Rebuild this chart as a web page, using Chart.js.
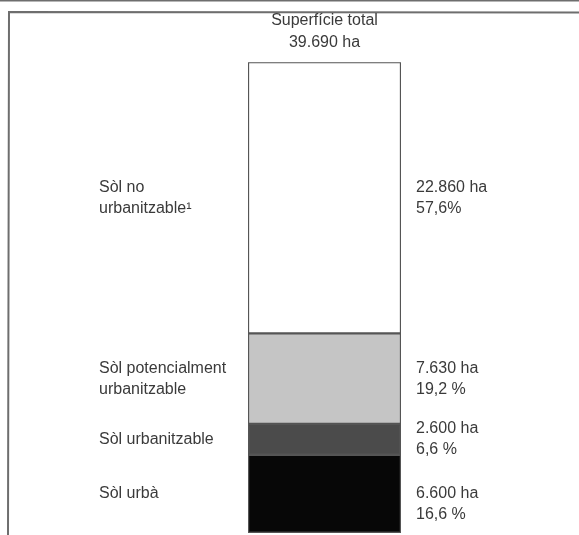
<!DOCTYPE html>
<html>
<head>
<meta charset="utf-8">
<script src="https://cdn.jsdelivr.net/npm/chart.js@4/dist/chart.umd.min.js"></script>
<style>
  html, body { margin: 0; padding: 0; background: #ffffff; }
  #wrap { width: 579px; height: 535px; }
</style>
</head>
<body>
<div id="wrap"><canvas id="c" width="579" height="535"></canvas></div>
<script>
// Land classes, from the bottom of the column to the top
const categories = ['Sòl urbà', 'Sòl urbanitzable', 'Sòl potencialment urbanitzable', 'Sòl no urbanitzable'];
const classLabelLines = [
  ['Sòl urbà'],
  ['Sòl urbanitzable'],
  ['Sòl potencialment', 'urbanitzable'],
  ['Sòl no', 'urbanitzable\u00B9']
];
const hectares = [6600, 2600, 7630, 22860];
const hectareLabels = ['6.600 ha', '2.600 ha', '7.630 ha', '22.860 ha'];
const percentLabels = ['16,6 %', '6,6 %', '19,2 %', '57,6%'];
const totalHectares = 39690;
const titleLines = ['Superfície total', '39.690 ha'];

const fills = ['#070707', '#4b4b4b', '#c5c5c5', '#ffffff'];
const TEXT = '#3a3a3a';
const FONT = '16px "Liberation Sans", Arial, sans-serif';

const frame = {
  id: 'frame',
  beforeDraw(chart) {
    const ctx = chart.ctx;
    ctx.save();
    ctx.fillStyle = '#ffffff';
    ctx.fillRect(0, 0, chart.width, chart.height);
    ctx.strokeStyle = '#6e6e6e';
    ctx.lineWidth = 2;
    ctx.beginPath();
    ctx.moveTo(579, 0.5); ctx.lineTo(0, 0.5);
    ctx.stroke();
    ctx.beginPath();
    ctx.moveTo(579, 12.5); ctx.lineTo(9, 12); ctx.lineTo(8, 535);
    ctx.stroke();
    ctx.restore();
  }
};

const sideLabels = {
  id: 'sideLabels',
  afterDatasetsDraw(chart) {
    const ctx = chart.ctx;
    const y = chart.scales.y;
    ctx.save();
    ctx.font = FONT;
    ctx.fillStyle = TEXT;
    ctx.textAlign = 'left';
    ctx.textBaseline = 'middle';
    const lh = 21;
    let base = 0;
    hectares.forEach((v, i) => {
      const yTop = y.getPixelForValue(base + v);
      const yBot = y.getPixelForValue(base);
      const mid = (yTop + yBot) / 2;
      base += v;
      const left = classLabelLines[i];
      const l0 = mid - (left.length - 1) * lh / 2;
      left.forEach((t, k) => ctx.fillText(t, 99, l0 + k * lh));
      // values for the bottom class sit lower, under the class name line
      const r0 = i === 0 ? mid : mid - lh / 2;
      ctx.fillText(hectareLabels[i], 416, r0);
      ctx.fillText(percentLabels[i], 416, r0 + lh);
    });
    ctx.restore();
  }
};

new Chart(document.getElementById('c'), {
  type: 'bar',
  data: {
    labels: ['Total'],
    datasets: categories.map((name, i) => ({
      label: name,
      data: [hectares[i]],
      backgroundColor: fills[i],
      borderColor: '#555555',
      borderWidth: 1.5,
      borderSkipped: false,
      barPercentage: 1,
      categoryPercentage: 1
    }))
  },
  options: {
    responsive: false,
    animation: false,
    layout: { padding: { left: 248, right: 178, top: 10, bottom: 2 } },
    scales: {
      x: { stacked: true, display: false },
      y: { stacked: true, display: false, min: 0, max: totalHectares }
    },
    plugins: {
      legend: { display: false },
      tooltip: { enabled: false },
      title: {
        display: true,
        text: titleLines,
        color: TEXT,
        font: { family: '"Liberation Sans", Arial, sans-serif', size: 16, weight: 'normal', lineHeight: 1.35 },
        padding: { top: 0, bottom: 9 }
      }
    }
  },
  plugins: [frame, sideLabels]
});
</script>
</body>
</html>
